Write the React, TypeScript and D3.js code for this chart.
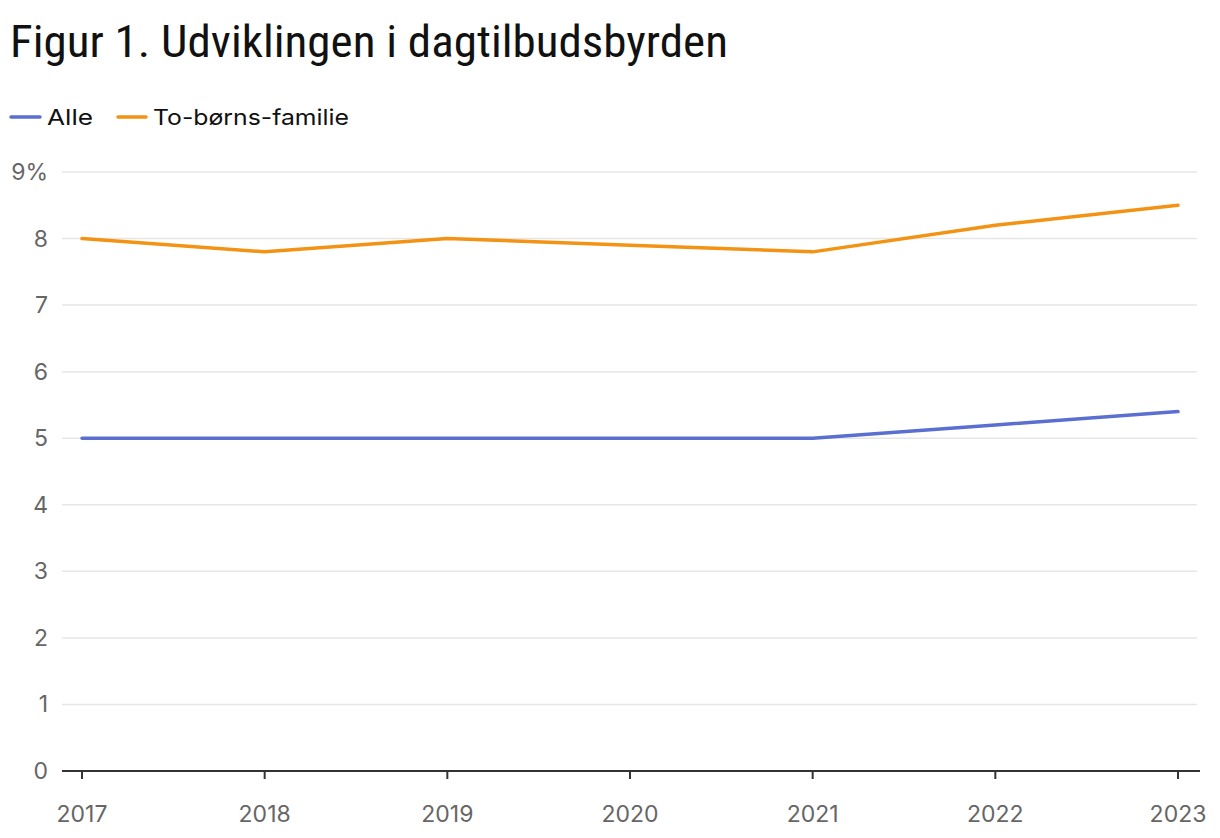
import React from "react";
import * as d3 from "d3";

const years = [2017, 2018, 2019, 2020, 2021, 2022, 2023];
const alle = [5, 5, 5, 5, 5, 5.2, 5.4];
const toBorns = [8, 7.8, 8, 7.9, 7.8, 8.2, 8.5];
const yTicks = [0, 1, 2, 3, 4, 5, 6, 7, 8, 9];
const seriesNames = ["Alle", "To-børns-familie"];
const colors = ["#5a6fcf", "#f39314"];

const W = 1220;
const H = 838;

export default function App() {
  const x = d3.scaleLinear().domain([2017, 2023]).range([82, 1178]);
  const y = d3.scaleLinear().domain([0, 9]).range([771, 172]);
  const line = d3
    .line<number>()
    .x((_, i) => x(years[i]))
    .y((d) => y(d));
  const series = [alle, toBorns];
  const font = "'Liberation Sans Narrow', 'Roboto Condensed', 'DejaVu Sans Condensed', sans-serif";
  const font2 = "Inter, 'Liberation Sans', sans-serif";
  return (
    <svg width={W} height={H} style={{ position: "absolute", left: 0, top: 0, background: "#fff" }}>
      <text x={10} y={57} fontFamily={font} fontSize={45} fill="#111" textLength={718} lengthAdjust="spacingAndGlyphs">
        Figur 1. Udviklingen i dagtilbudsbyrden
      </text>
      <g>
        <line x1={11} x2={40} y1={117} y2={117} stroke={colors[0]} strokeWidth={3.5} strokeLinecap="round" />
        <text x={47} y={125} fontFamily={font2} fontSize={22} fill="#111" textLength={46} lengthAdjust="spacingAndGlyphs">{seriesNames[0]}</text>
        <line x1={118} x2={146} y1={117} y2={117} stroke={colors[1]} strokeWidth={3.5} strokeLinecap="round" />
        <text x={153} y={125} fontFamily={font2} fontSize={22} fill="#111" textLength={196} lengthAdjust="spacingAndGlyphs">{seriesNames[1]}</text>
      </g>
      {yTicks.map((t) => (
        <g key={t}>
          {t > 0 && (
            <line x1={62} x2={1197} y1={y(t)} y2={y(t)} stroke="#e6e6e6" strokeWidth={1.5} />
          )}
          <text x={48} y={y(t) + 8} textAnchor="end" fontFamily={font2} fontSize={23} fill="#666">
            {t === 9 ? "9%" : String(t)}
          </text>
        </g>
      ))}
      <line x1={62} x2={1200} y1={y(0)} y2={y(0)} stroke="#333" strokeWidth={2} />
      {years.map((yr) => (
        <g key={yr}>
          <line x1={x(yr)} x2={x(yr)} y1={y(0)} y2={y(0) + 8} stroke="#333" strokeWidth={2} />
          <text x={x(yr)} y={822} textAnchor="middle" fontFamily={font2} fontSize={23} fill="#666">
            {yr}
          </text>
        </g>
      ))}
      {series.map((s, i) => (
        <path key={i} d={line(s) || ""} fill="none" stroke={colors[i]} strokeWidth={3.5} strokeLinejoin="round" strokeLinecap="round" />
      ))}
    </svg>
  );
}
